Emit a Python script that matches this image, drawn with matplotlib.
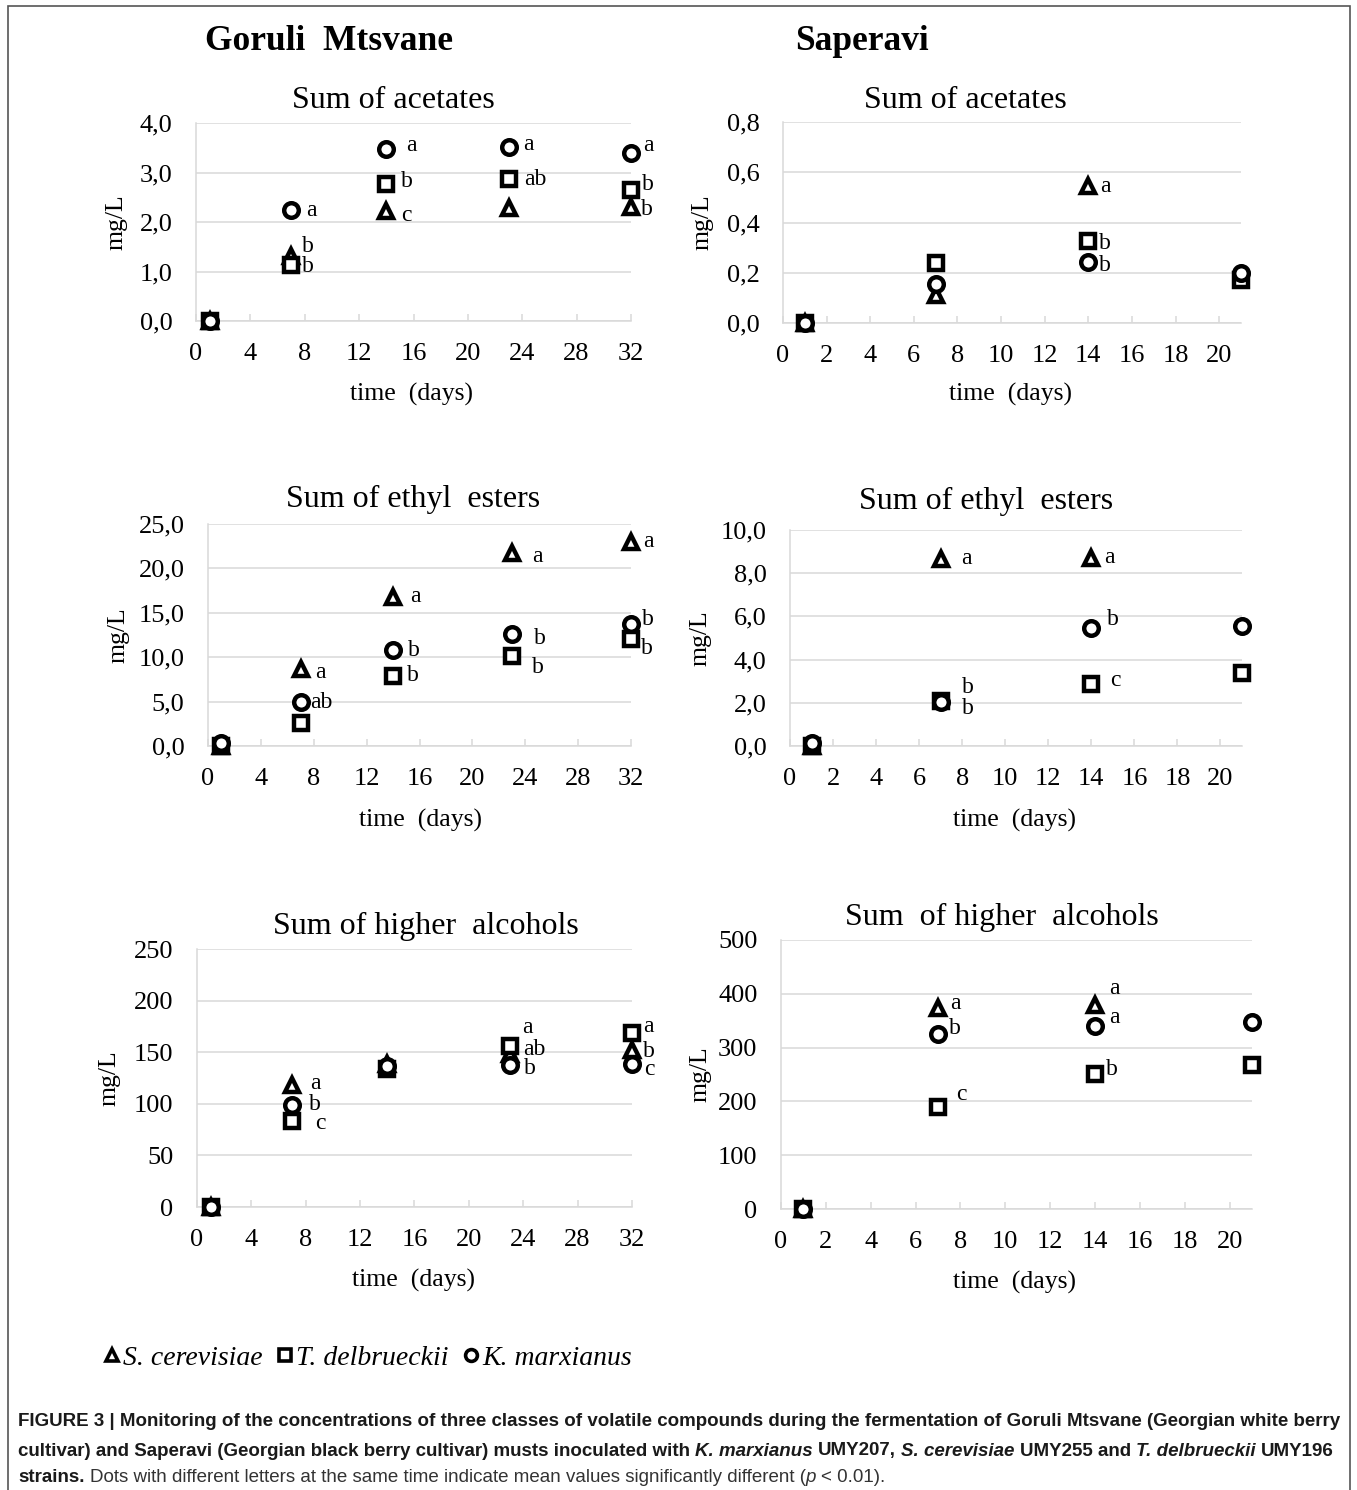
import numpy as np
import matplotlib
matplotlib.use('Agg')
import matplotlib.pyplot as plt
from matplotlib.lines import Line2D
from matplotlib.patches import Rectangle
from matplotlib.ticker import FuncFormatter, MultipleLocator
from matplotlib import font_manager

nan = np.nan

# sampling days
days_gm = [1, 7, 14, 23, 32]
days_sp = [1, 7, 14, 21]

# Goruli Mtsvane, mg/L  (sc = S. cerevisiae, td = T. delbrueckii, km = K. marxianus)
gm_acet_sc = [0.0, 1.32, 2.22, 2.28, 2.31]
gm_acet_td = [0.0, 1.13, 2.77, 2.86, 2.65]
gm_acet_km = [0.0, 2.24, 3.47, 3.51, 3.39]

gm_est_sc = [0.0, 8.7, 16.8, 21.7, 23.0]
gm_est_td = [0.0, 2.6, 7.9, 10.1, 12.1]
gm_est_km = [0.3, 5.0, 10.8, 12.6, 13.7]

gm_alc_sc = [0.0, 118, 139, 148, 152]
gm_alc_td = [0.0, 83, 134, 156, 169]
gm_alc_km = [0.0, 99, 137, 138, 139]

# Saperavi, mg/L
sp_acet_sc = [0.0, 0.11, 0.544, nan]
sp_acet_td = [0.0, 0.239, 0.325, 0.172]
sp_acet_km = [0.0, 0.157, 0.243, 0.199]

sp_est_sc = [0.0, 8.66, 8.69, nan]
sp_est_td = [0.0, 2.1, 2.87, 3.40]
sp_est_km = [0.15, 2.05, 5.48, 5.57]

sp_alc_sc = [0.0, 373, 379, nan]
sp_alc_td = [0.0, 190, 251, 268]
sp_alc_km = [0.0, 325, 340, 347]

# significance letters, one per sampling day
gm_acet_let = {'sc': ['', 'b', 'c', '', 'b'], 'td': ['', 'b', 'b', 'ab', 'b'], 'km': ['', 'a', 'a', 'a', 'a']}
gm_est_let = {'sc': ['', 'a', 'a', 'a', 'a'], 'td': ['', '', 'b', 'b', 'b'], 'km': ['', 'ab', 'b', 'b', 'b']}
gm_alc_let = {'sc': ['', 'a', '', 'ab', 'b'], 'td': ['', 'c', '', 'a', 'a'], 'km': ['', 'b', '', 'b', 'c']}
sp_acet_let = {'sc': ['', '', 'a', ''], 'td': ['', '', 'b', ''], 'km': ['', '', 'b', '']}
sp_est_let = {'sc': ['', 'a', 'a', ''], 'td': ['', 'b', 'c', ''], 'km': ['', 'b', 'b', '']}
sp_alc_let = {'sc': ['', 'a', 'a', ''], 'td': ['', 'c', 'b', ''], 'km': ['', 'b', 'a', '']}

W, H = 1357, 1490
plt.rcParams['font.family'] = 'Liberation Serif'
fig = plt.figure(figsize=(W / 100, H / 100), dpi=100)
fig.patch.set_facecolor('white')

GRID = '#d9d9d9'
styles = {'sc': '^', 'td': 's', 'km': 'o'}
order = ['sc', 'td', 'km']

# letter offsets in pixels (dx, dy up) where they differ from the default
nudge = {
    ('gm_acet', 'sc', 1): (17, 9), ('gm_acet', 'td', 1): (17, -1), ('gm_acet', 'km', 1): (20, 0),
    ('gm_acet', 'km', 2): (25, 4), ('gm_acet', 'td', 2): (21, 2), ('gm_acet', 'sc', 2): (20, -4),
    ('gm_acet', 'km', 3): (20, 3), ('gm_acet', 'td', 3): (27, 0),
    ('gm_acet', 'km', 4): (17, 8), ('gm_acet', 'td', 4): (17, 5), ('gm_acet', 'sc', 4): (16, -3),
    ('sp_acet', 'sc', 2): (17, 0), ('sp_acet', 'td', 2): (17, -2), ('sp_acet', 'km', 2): (17, -4),
    ('gm_est', 'sc', 1): (20, -4), ('gm_est', 'km', 1): (21, -1),
    ('gm_est', 'sc', 2): (22, 0), ('gm_est', 'km', 2): (21, 0), ('gm_est', 'td', 2): (20, 0),
    ('gm_est', 'sc', 3): (25, -3), ('gm_est', 'km', 3): (28, -4), ('gm_est', 'td', 3): (26, -11),
    ('gm_est', 'sc', 4): (17, 0), ('gm_est', 'km', 4): (17, 5), ('gm_est', 'td', 4): (16, -10),
    ('sp_est', 'sc', 1): (26, 0), ('sp_est', 'td', 1): (27, 13), ('sp_est', 'km', 1): (27, -7),
    ('sp_est', 'sc', 2): (18, 1), ('sp_est', 'km', 2): (22, 8), ('sp_est', 'td', 2): (24, 4),
    ('gm_alc', 'sc', 1): (23, 2), ('gm_alc', 'km', 1): (23, 0), ('gm_alc', 'td', 1): (28, -2),
    ('gm_alc', 'td', 3): (18, 19), ('gm_alc', 'sc', 3): (25, 5), ('gm_alc', 'km', 3): (20, -4),
    ('gm_alc', 'td', 4): (16, 6), ('gm_alc', 'sc', 4): (17, -1), ('gm_alc', 'km', 4): (17, -6),
    ('sp_alc', 'sc', 1): (17, 5), ('sp_alc', 'km', 1): (17, 6), ('sp_alc', 'td', 1): (23, 12),
    ('sp_alc', 'sc', 2): (19, 17), ('sp_alc', 'km', 2): (19, 9), ('sp_alc', 'td', 2): (17, 4),
}

panels = [
    # key, days, series, letters, box (l, t, r, b px), xmax, xstep, ymax, ystep, decimals, title, title xy, xlabel xy, ylabel x
    ('gm_acet', days_gm, {'sc': gm_acet_sc, 'td': gm_acet_td, 'km': gm_acet_km}, gm_acet_let,
     (196, 123, 631, 321), 32, 4, 4.0, 1.0, 1, 'Sum of acetates', (393, 101), (412, 394), 117),
    ('sp_acet', days_sp, {'sc': sp_acet_sc, 'td': sp_acet_td, 'km': sp_acet_km}, sp_acet_let,
     (783, 122, 1241, 323), 21, 2, 0.8, 0.2, 1, 'Sum of acetates', (965, 100), (1011, 394), 703),
    ('gm_est', days_gm, {'sc': gm_est_sc, 'td': gm_est_td, 'km': gm_est_km}, gm_est_let,
     (208, 524, 631, 746), 32, 4, 25.0, 5.0, 1, 'Sum of ethyl  esters', (413, 499), (420, 820), 118),
    ('sp_est', days_sp, {'sc': sp_est_sc, 'td': sp_est_td, 'km': sp_est_km}, sp_est_let,
     (790, 530, 1242, 746), 21, 2, 10.0, 2.0, 1, 'Sum of ethyl  esters', (986, 501), (1015, 820), 700),
    ('gm_alc', days_gm, {'sc': gm_alc_sc, 'td': gm_alc_td, 'km': gm_alc_km}, gm_alc_let,
     (197, 949, 632, 1207), 32, 4, 250, 50, 0, 'Sum of higher  alcohols', (426, 926), (413, 1280), 110),
    ('sp_alc', days_sp, {'sc': sp_alc_sc, 'td': sp_alc_td, 'km': sp_alc_km}, sp_alc_let,
     (781, 940, 1252, 1209), 21, 2, 500, 100, 0, 'Sum  of higher  alcohols', (1002, 917), (1015, 1282), 700),
]


def fx(px):
    return px / W


def fy(py):
    return 1 - py / H


for (key, days, series, letters, box, xmax, xstep, ymax, ystep, dec,
     title, txy, xlxy, ylx) in panels:
    l, t, r, b = box
    ax = fig.add_axes([fx(l), fy(b), (r - l) / W, (b - t) / H])
    ax.set_xlim(0, xmax)
    ax.set_ylim(0, ymax)
    ax.yaxis.set_major_locator(MultipleLocator(ystep))
    ax.set_xticks(np.arange(0, xmax + 0.01, xstep))
    if dec:
        ax.yaxis.set_major_formatter(FuncFormatter(lambda v, p, d=dec: f'{v:.{d}f}'.replace('.', ',')))
    else:
        ax.yaxis.set_major_formatter(FuncFormatter(lambda v, p: f'{v:.0f}'))
    ax.set_axisbelow(True)
    ax.yaxis.grid(True, color=GRID, lw=1.1)
    for s in ('top', 'right'):
        ax.spines[s].set_visible(False)
    for s in ('left', 'bottom'):
        ax.spines[s].set_color(GRID)
        ax.spines[s].set_linewidth(1.1)
    ax.tick_params(axis='x', direction='in', length=5, width=1.1, color=GRID,
                   labelsize=19, pad=16)
    ax.tick_params(axis='y', length=0, labelsize=19, pad=17)

    for z, sk in enumerate(order):
        ax.plot(days, series[sk], ls='none', marker=styles[sk], ms=10.5, mew=3.2,
                mec='black', mfc='white', clip_on=False, zorder=3 + z)
        for i, lt in enumerate(letters[sk]):
            if not lt:
                continue
            dx, dy = nudge.get((key, sk, i), (18, 0))
            ax.annotate(lt, (days[i], series[sk][i]), xytext=(dx, dy),
                        textcoords='offset pixels', ha='center', va='center',
                        fontsize=17, zorder=8, annotation_clip=False)

    fig.text(fx(txy[0]), fy(txy[1]), title, fontsize=23, ha='center', va='center')
    fig.text(fx(xlxy[0]), fy(xlxy[1]), 'time  (days)', fontsize=18.5, ha='center', va='center')
    fig.text(fx(ylx), fy((t + b) / 2), 'mg/L', fontsize=18.5, rotation=90, ha='center', va='center')

# cultivar headers
fig.text(fx(329), fy(42), 'Goruli  Mtsvane', fontsize=25.5, weight='bold', ha='center', va='center')
fig.text(fx(862), fy(42), 'Saperavi', fontsize=25.5, weight='bold', ha='center', va='center')

# outer frame
fig.add_artist(Rectangle((fx(8), -0.01), (1350 - 8) / W, fy(6) + 0.01, fill=False,
                         ec='#555555', lw=1.2, transform=fig.transFigure))

# species key
handles = [Line2D([], [], ls='none', marker=styles[k], ms=8.5, mew=2.6, mec='black', mfc='white')
           for k in order]
fig.legend(handles, ['S. cerevisiae', 'T. delbrueckii', 'K. marxianus'], ncol=3,
           loc='center left', bbox_to_anchor=(fx(104), fy(1358)), frameon=False,
           prop={'family': 'Liberation Serif', 'style': 'italic', 'size': 20},
           handlelength=0.6, handletextpad=0.1, columnspacing=0.5, borderpad=0,
           borderaxespad=0)

# caption
names = {f.name for f in font_manager.fontManager.ttflist}
cap_family = 'Liberation Sans Narrow' if 'Liberation Sans Narrow' in names else 'Liberation Sans'
cap_color = '#1a1a1a'
renderer = fig.canvas.get_renderer()


def text_width(s, size, weight='normal', style='normal'):
    t = fig.text(0, 0, s, fontsize=size, family=cap_family, weight=weight, style=style)
    w = t.get_window_extent(renderer=renderer).width
    t.remove()
    return w


def draw_runs(runs, x, y, size):
    for txt, weight, style, gap in runs:
        if gap:
            x += text_width('n n', size, weight) - text_width('nn', size, weight)
        color = cap_color if weight == 'bold' else '#333333'
        t = fig.text(fx(x), fy(y), txt, fontsize=size, family=cap_family, weight=weight,
                     style=style, color=color, ha='left', va='center')
        x += t.get_window_extent(renderer=renderer).width


line1 = ('FIGURE 3 | Monitoring of the concentrations of three classes of volatile compounds '
         'during the fermentation of Goruli Mtsvane (Georgian white berry')
cap_size = 13 * 1322 / text_width(line1, 13, 'bold')

draw_runs([(line1, 'bold', 'normal', False)], 18, 1422, cap_size)
draw_runs([
    ('cultivar) and Saperavi (Georgian black berry cultivar) musts inoculated with', 'bold', 'normal', False),
    ('K. marxianus', 'bold', 'italic', True),
    ('UMY207,', 'bold', 'normal', True),
    ('S. cerevisiae', 'bold', 'italic', True),
    ('UMY255 and', 'bold', 'normal', True),
    ('T. delbrueckii', 'bold', 'italic', True),
    ('UMY196', 'bold', 'normal', True),
], 18, 1451, cap_size)
draw_runs([
    ('strains.', 'bold', 'normal', False),
    ('Dots with different letters at the same time indicate mean values significantly different (',
     'normal', 'normal', True),
    ('p', 'normal', 'italic', False),
    ('< 0.01).', 'normal', 'normal', True),
], 18, 1478, cap_size)

fig.savefig('out.png', dpi=100)
